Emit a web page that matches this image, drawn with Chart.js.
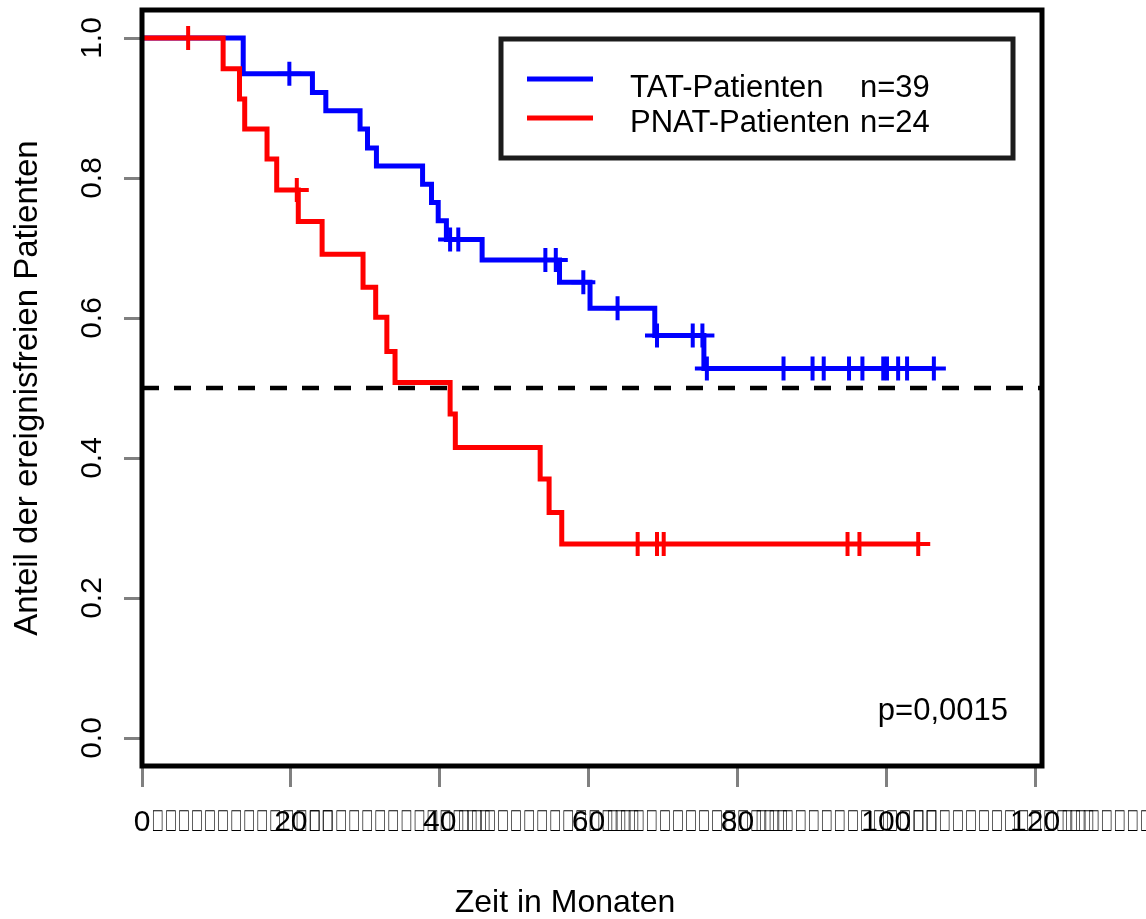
<!DOCTYPE html>
<html>
<head>
<meta charset="utf-8">
<script src="https://cdn.jsdelivr.net/npm/chart.js@4.4.1/dist/chart.umd.min.js"></script>
<style>
  html, body { margin: 0; padding: 0; background: #fff; }
  #wrap { width: 1146px; height: 919px; }
</style>
</head>
<body>
<div id="wrap"><canvas id="km" width="1146" height="919"></canvas></div>
<script>
// Kaplan-Meier steps: time of each step (months) and survival after it
const tatTimes = [0, 13.6, 22.9, 24.7, 29.3, 30.3, 31.5, 37.7, 38.9, 39.8, 40.9, 45.7, 56.1, 60.2, 68.9, 75.5, 106.4];
const tatSurv  = [1.0, 0.949, 0.922, 0.896, 0.870, 0.843, 0.817, 0.791, 0.765, 0.739, 0.712, 0.683, 0.651, 0.614, 0.575, 0.528, 0.528];
const tatCensored = [19.8, 41.4, 42.5, 54.2, 55.6, 59.3, 63.9, 69.2, 74.0, 75.3, 75.9, 86.2, 90.1, 91.6, 95.0, 96.8, 99.6, 100.1, 101.6, 102.8, 106.4];

const pnatTimes = [0, 10.9, 13.1, 13.8, 16.8, 18.1, 21.0, 24.2, 29.7, 31.4, 32.9, 34.0, 41.4, 42.1, 53.5, 54.7, 56.4, 104.3];
const pnatSurv  = [1.0, 0.956, 0.913, 0.870, 0.827, 0.783, 0.738, 0.691, 0.644, 0.601, 0.552, 0.508, 0.463, 0.415, 0.370, 0.322, 0.277, 0.277];
const pnatCensored = [6.2, 20.8, 66.6, 69.2, 70.1, 94.8, 96.4, 104.3];

const refLevel = 0.5;

const xTicks = [0, 20, 40, 60, 80, 100, 120];
const xTickLabels = ['0', '20', '40', '60', '80', '100', '120'];
// trailing characters of the month labels (no glyphs in the font)
const xTickTail = '\uE000\uE000\uE000\uE000\uE000\uE000\uE000\uE000\uE000\uE000\uE000\uE000\uE000\uE000';
const yTicks = [0, 0.2, 0.4, 0.6, 0.8, 1.0];
const yTickLabels = ['0.0', '0.2', '0.4', '0.6', '0.8', '1.0'];

const legendNames = ['TAT-Patienten', 'PNAT-Patienten'];
const legendCounts = ['n=39', 'n=24'];
const pValueText = 'p=0,0015';
const xTitle = 'Zeit in Monaten';
const yTitle = 'Anteil der ereignisfreien Patienten';

const BLUE = '#0000ff';
const RED = '#ff0000';
const SANS = '"Liberation Sans", Arial, sans-serif';

// survival level of a step curve at time t
function levelAt(times, surv, t) {
  let s = surv[0];
  for (let i = 0; i < times.length; i++) if (times[i] <= t) s = surv[i];
  return s;
}

function curve(times, surv, color) {
  return {
    data: times.map((t, i) => ({ x: t, y: surv[i] })),
    stepped: 'before',
    borderColor: color,
    borderWidth: 5,
    borderCapStyle: 'butt',
    borderJoinStyle: 'miter',
    pointRadius: 0,
    fill: false
  };
}

function marks(times, surv, censored, color) {
  return {
    data: censored.map(t => ({ x: t, y: levelAt(times, surv, t) })),
    showLine: false,
    pointStyle: 'cross',
    pointRadius: 12,
    pointBorderWidth: 4,
    pointBorderColor: color,
    pointBackgroundColor: color
  };
}

const decorations = {
  id: 'decorations',
  afterDatasetsDraw(chart) {
    const { ctx, chartArea: a, scales: { y } } = chart;
    ctx.save();
    // median reference line
    const yRef = y.getPixelForValue(refLevel);
    ctx.strokeStyle = '#000';
    ctx.lineWidth = 4.5;
    ctx.setLineDash([17, 15]);
    ctx.beginPath();
    ctx.moveTo(a.left, yRef);
    ctx.lineTo(a.right, yRef);
    ctx.stroke();
    ctx.setLineDash([]);

    // plot frame
    ctx.lineWidth = 5;
    ctx.strokeRect(a.left, a.top, a.right - a.left, a.bottom - a.top);

    // legend
    const box = { left: 501, top: 39, right: 1013, bottom: 158 };
    ctx.fillStyle = '#fff';
    ctx.fillRect(box.left, box.top, box.right - box.left, box.bottom - box.top);
    ctx.strokeStyle = '#1c1c1c';
    ctx.lineWidth = 5;
    ctx.strokeRect(box.left, box.top, box.right - box.left, box.bottom - box.top);
    const rowLine = [79, 118];
    const rowBase = [97, 132];
    const colors = [BLUE, RED];
    ctx.font = '31px ' + SANS;
    ctx.textBaseline = 'alphabetic';
    ctx.textAlign = 'left';
    legendNames.forEach((name, i) => {
      ctx.strokeStyle = colors[i];
      ctx.lineWidth = 5;
      ctx.beginPath();
      ctx.moveTo(527, rowLine[i]);
      ctx.lineTo(593, rowLine[i]);
      ctx.stroke();
      ctx.fillStyle = '#000';
      ctx.fillText(name, 630, rowBase[i]);
      ctx.fillText(legendCounts[i], 860, rowBase[i]);
    });

    // log-rank p-value
    ctx.font = '31px ' + SANS;
    ctx.textAlign = 'right';
    ctx.fillText(pValueText, 1008, 720);
    ctx.restore();
  },
  afterDraw(chart) {
    const { ctx, scales: { x } } = chart;
    const tickFont = x.options.ticks.font;
    ctx.save();
    ctx.fillStyle = '#000';
    ctx.font = tickFont.size + 'px ' + tickFont.family;
    ctx.textBaseline = 'middle';
    ctx.textAlign = 'left';
    const yMid = x.top + x.options.grid.tickLength + x.options.ticks.padding + tickFont.size * 1.2 / 2;
    const squeeze = 0.58;
    xTicks.forEach((v, i) => {
      const w = ctx.measureText(xTickLabels[i]).width;
      const x0 = x.getPixelForValue(v) + w / 2 + 1;
      ctx.save();
      ctx.translate(x0, yMid);
      ctx.scale(squeeze, 1);
      ctx.fillText(xTickTail, 0, 0);
      ctx.restore();
    });
    // x axis title
    ctx.font = '32px ' + SANS;
    ctx.textAlign = 'center';
    ctx.textBaseline = 'alphabetic';
    ctx.fillText(xTitle, 565, 912);
    ctx.restore();
  }
};

const tickGrid = (len) => ({
  drawOnChartArea: false,
  drawTicks: true,
  tickLength: len,
  color: '#808080',
  lineWidth: 3
});

new Chart(document.getElementById('km'), {
  type: 'line',
  data: {
    datasets: [
      marks(pnatTimes, pnatSurv, pnatCensored, RED),
      curve(pnatTimes, pnatSurv, RED),
      marks(tatTimes, tatSurv, tatCensored, BLUE),
      curve(tatTimes, tatSurv, BLUE)
    ]
  },
  options: {
    responsive: false,
    animation: false,
    devicePixelRatio: 1,
    layout: { autoPadding: false, padding: { top: 10, right: 104, left: 0, bottom: 0 } },
    plugins: { legend: { display: false }, tooltip: { enabled: false } },
    scales: {
      x: {
        type: 'linear',
        min: 0,
        max: 120.93,
        afterBuildTicks: s => { s.ticks = xTicks.map(v => ({ value: v })); },
        afterFit: s => { s.height = 153; s.paddingLeft = 0; s.paddingRight = 0; },
        border: { display: false },
        grid: tickGrid(21),
        ticks: {
          autoSkip: false,
          maxRotation: 0,
          minRotation: 0,
          padding: 18,
          color: '#000',
          font: { family: '"Liberation Sans"', size: 30 },
          callback: v => xTickLabels[xTicks.indexOf(v)]
        }
      },
      y: {
        type: 'linear',
        min: -0.04,
        max: 1.04,
        afterBuildTicks: s => { s.ticks = yTicks.map(v => ({ value: v })); },
        afterFit: s => { s.width = 142; s.paddingTop = 0; s.paddingBottom = 0; },
        border: { display: false },
        grid: tickGrid(18),
        ticks: {
          minRotation: 90,
          maxRotation: 90,
          crossAlign: 'center',
          padding: 10,
          color: '#000',
          font: { family: SANS, size: 30 },
          callback: v => yTickLabels[yTicks.indexOf(v)]
        },
        title: {
          display: true,
          text: yTitle,
          color: '#000',
          font: { family: SANS, size: 33 },
          padding: { top: 8, bottom: 0 }
        }
      }
    }
  },
  plugins: [decorations]
});
</script>
</body>
</html>
